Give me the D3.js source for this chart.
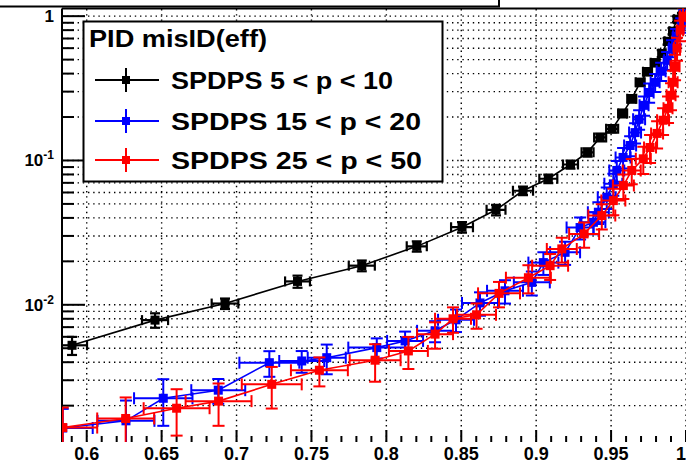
<!DOCTYPE html>
<html>
<head>
<meta charset="utf-8">
<script src="https://cdn.jsdelivr.net/npm/d3@7"></script>
<style>
  html, body { margin: 0; padding: 0; background: #fff; }
  svg { display: block; font-family: "Liberation Sans", Arial, Helvetica, sans-serif; }
</style>
</head>
<body>
<svg id="chart" width="686" height="464"></svg>
<script>
// Misidentification rate versus efficiency for three momentum bins
const xDomain = [0.5835, 1.0];
const yDomain = [0.00112, 1.13];

const xTickValues = [0.6, 0.65, 0.7, 0.75, 0.8, 0.85, 0.9, 0.95, 1.0];
const xTickLabels = ["0.6", "0.65", "0.7", "0.75", "0.8", "0.85", "0.9", "0.95", "1"];
const yDecades = [1, 0.1, 0.01];
const yDecadeBase = ["1", "10", "10"];
const yDecadeExp = ["", "-1", "-2"];

const legendTitle = "PID misID(eff)";
const legendLabels = ["SPDPS 5 < p < 10", "SPDPS 15 < p < 20", "SPDPS 25 < p < 50"];

// SPDPS 5 < p < 10
const blackX  = [0.5902, 0.6456, 0.6923, 0.7407, 0.7836, 0.8203, 0.8505, 0.8732, 0.8912, 0.9081, 0.9229, 0.9343,
                 0.9427, 0.9507, 0.9577, 0.9638, 0.9694, 0.9743, 0.9794, 0.9838, 0.9877, 0.9910, 0.9940, 0.9973];
const blackY  = [0.00524, 0.00783, 0.0102, 0.01452, 0.01867, 0.0254, 0.0345, 0.0455, 0.0617, 0.0747, 0.0938, 0.1138,
                 0.1445, 0.1656, 0.212, 0.268, 0.348, 0.412, 0.476, 0.551, 0.670, 0.787, 0.953, 1.0];
const blackEX = [0.010, 0.0087, 0.0089, 0.0083, 0.0087, 0.0067, 0.0073, 0.0063, 0.0067, 0.006, 0.005, 0.004,
                 0.004, 0.004, 0.003, 0.003, 0.003, 0.003, 0.003, 0.002, 0.002, 0.002, 0.002, 0.002];
const blackEY = [0.00075, 0.0009, 0.00085, 0.0014, 0.0016, 0.0021, 0.0029, 0.0038, 0.0041, 0.005, 0.006, 0.0075,
                 0.009, 0.010, 0.013, 0.016, 0.020, 0.024, 0.027, 0.030, 0.035, 0.040, 0.045, 0.050];

// SPDPS 15 < p < 20
const blueX  = [0.584, 0.6262, 0.6511, 0.6878, 0.7219, 0.7435, 0.7602, 0.7936, 0.8125, 0.8325, 0.8465, 0.8625,
                0.8792, 0.8971, 0.9048, 0.9193, 0.9293, 0.9382, 0.9415, 0.9471, 0.9515, 0.9538, 0.958, 0.9627,
                0.966, 0.9687, 0.972, 0.9754, 0.9794, 0.9834, 0.9874, 0.9907, 0.9934, 0.9968, 0.9988];
const blueY  = [0.0014, 0.00157, 0.00225, 0.00256, 0.00397, 0.00408, 0.0043, 0.00505, 0.00562, 0.0066, 0.00787, 0.0103,
                0.0125, 0.0143, 0.0196, 0.0231, 0.0343, 0.0373, 0.0438, 0.0556, 0.0689, 0.0853, 0.105, 0.127,
                0.156, 0.193, 0.241, 0.296, 0.348, 0.415, 0.494, 0.60, 0.726, 0.866, 1.0];
const blueEX = [0.020, 0.019, 0.0195, 0.018, 0.020, 0.015, 0.0127, 0.019, 0.012, 0.012, 0.012, 0.012,
                0.012, 0.012, 0.010, 0.010, 0.009, 0.008, 0.007, 0.006, 0.006, 0.005, 0.005, 0.004,
                0.004, 0.004, 0.003, 0.003, 0.003, 0.003, 0.002, 0.002, 0.002, 0.002, 0.002];
const blueEY = [0.0005, 0.0006, 0.0008, 0.0005, 0.0008, 0.0007, 0.0010, 0.0008, 0.0009, 0.0011, 0.0014, 0.0019,
                0.0023, 0.0027, 0.0035, 0.0042, 0.006, 0.0065, 0.0075, 0.0095, 0.012, 0.014, 0.017, 0.020,
                0.025, 0.030, 0.037, 0.045, 0.050, 0.060, 0.070, 0.080, 0.090, 0.10, 0.10];

// SPDPS 25 < p < 50
const redX  = [0.584, 0.626, 0.660, 0.688, 0.7235, 0.7553, 0.7925, 0.8147, 0.8325, 0.8445, 0.8602, 0.8752,
               0.8948, 0.9093, 0.9171, 0.932, 0.9438, 0.9515, 0.9582, 0.9638, 0.9715, 0.976, 0.9807, 0.9847,
               0.988, 0.990, 0.9914, 0.9927, 0.994, 0.9961, 0.998];
const redY  = [0.00141, 0.00163, 0.00192, 0.00215, 0.00281, 0.00352, 0.00413, 0.00479, 0.00626, 0.0080, 0.00852, 0.0120,
               0.0154, 0.01866, 0.0244, 0.031, 0.0415, 0.0527, 0.067, 0.0853, 0.1027, 0.123, 0.154, 0.19,
               0.23, 0.283, 0.348, 0.45, 0.60, 0.80, 1.0];
const redEX = [0.023, 0.019, 0.022, 0.022, 0.020, 0.019, 0.017, 0.013, 0.012, 0.012, 0.013, 0.014,
               0.015, 0.012, 0.010, 0.010, 0.009, 0.008, 0.007, 0.006, 0.005, 0.004, 0.004, 0.004,
               0.003, 0.003, 0.003, 0.003, 0.002, 0.002, 0.002];
const redEY = [0.00053, 0.00065, 0.00068, 0.0007, 0.0009, 0.0008, 0.0012, 0.0012, 0.0013, 0.0016, 0.0017, 0.0024,
               0.0034, 0.0038, 0.0048, 0.0062, 0.0083, 0.011, 0.013, 0.017, 0.022, 0.027, 0.033, 0.040,
               0.048, 0.060, 0.070, 0.090, 0.11, 0.13, 0.15];

const seriesColors = ["#000000", "#0000ff", "#ff0000"];

const svg = d3.select("#chart");
const frame = { left: 62, right: 686, top: 8.5, bottom: 442 };

const x = d3.scaleLinear().domain(xDomain).range([frame.left, frame.right]);
const y = d3.scaleLog().domain(yDomain).range([frame.bottom, frame.top]);

// every 1..9 x 10^k value inside the y range
const yAllTicks = [];
for (let k = -3; k <= 0; k++) {
  for (let m = 1; m <= 9; m++) {
    const v = m * Math.pow(10, k);
    if (v >= yDomain[0] && v <= yDomain[1]) yAllTicks.push({ v, major: m === 1 });
  }
}
const xMinorTicks = d3.range(59, 101).map(i => i / 100).filter(v => v >= xDomain[0] && v <= xDomain[1]);

svg.append("defs").append("clipPath").attr("id", "frameClip")
  .append("rect")
  .attr("x", frame.left).attr("y", frame.top)
  .attr("width", frame.right - frame.left).attr("height", frame.bottom - frame.top);

// title box along the top edge
svg.append("rect").attr("x", -4).attr("y", -30).attr("width", 503).attr("height", 36.5)
  .attr("fill", "#fff").attr("stroke", "#000").attr("stroke-width", 2);

// dotted grid
const grid = svg.append("g").attr("stroke", "#000").attr("stroke-width", 1.4)
  .attr("stroke-dasharray", "1.4,3.8").attr("fill", "none");
grid.selectAll("line.gy").data(yAllTicks).join("line").attr("class", "gy")
  .attr("x1", frame.left).attr("x2", frame.right)
  .attr("y1", d => y(d.v)).attr("y2", d => y(d.v));
grid.selectAll("line.gx").data(xTickValues).join("line").attr("class", "gx")
  .attr("x1", d => x(d)).attr("x2", d => x(d))
  .attr("y1", frame.bottom).attr("y2", frame.top);

// frame edges
svg.append("line").attr("x1", frame.left).attr("x2", frame.right + 2)
  .attr("y1", frame.top).attr("y2", frame.top).attr("stroke", "#000").attr("stroke-width", 2);
svg.append("line").attr("x1", frame.left).attr("x2", frame.left)
  .attr("y1", frame.top).attr("y2", frame.bottom).attr("stroke", "#000").attr("stroke-width", 2);

// y ticks (inward)
svg.append("g").selectAll("line").data(yAllTicks).join("line")
  .attr("x1", frame.left).attr("x2", d => frame.left + (d.major ? 23 : 12))
  .attr("y1", d => y(d.v)).attr("y2", d => y(d.v))
  .attr("stroke", "#000").attr("stroke-width", 2);

// x ticks (inward from the bottom)
svg.append("g").selectAll("line").data(xMinorTicks).join("line")
  .attr("x1", d => x(d)).attr("x2", d => x(d))
  .attr("y1", frame.bottom).attr("y2", d => {
    const major = Math.abs(Math.round(d * 20) - d * 20) < 1e-6;
    return frame.bottom - (major ? 12 : 6);
  })
  .attr("stroke", "#000").attr("stroke-width", 2);

// x tick labels; the last one sits flush with the right edge
const lastTick = xTickValues.length - 1;
svg.append("g").selectAll("text").data(xTickValues).join("text")
  .attr("x", (d, i) => i === lastTick ? frame.right : x(d)).attr("y", 460)
  .attr("text-anchor", (d, i) => i === lastTick ? "end" : "middle")
  .attr("font-size", 18).attr("font-weight", "bold")
  .text((d, i) => xTickLabels[i]);

// y tick labels with exponents
const yl = svg.append("g").selectAll("text").data(yDecades).join("text")
  .attr("x", 54).attr("y", d => y(d) + 6)
  .attr("text-anchor", "end").attr("font-weight", "bold");
yl.append("tspan").attr("font-size", 17).text((d, i) => yDecadeBase[i]);
yl.append("tspan").attr("font-size", 12).attr("dy", -7).text((d, i) => yDecadeExp[i]);

// data series
const plot = svg.append("g").attr("clip-path", "url(#frameClip)");

function drawSeries(xs, ys, exs, eys, color, cap, barWidth, markerSize) {
  const g = plot.append("g");
  const pts = xs.map((v, i) => ({ x: v, y: ys[i], ex: exs[i], ey: eys[i] }));
  const lo = v => Math.max(v, yDomain[0] * 0.3);

  g.append("path").datum(pts)
    .attr("d", d3.line().x(d => x(d.x)).y(d => y(d.y)))
    .attr("fill", "none").attr("stroke", color).attr("stroke-width", 1.6);

  const e = g.selectAll("g.pt").data(pts).join("g").attr("class", "pt")
    .attr("stroke", color).attr("stroke-width", barWidth);
  // horizontal error bars with end caps
  e.append("line").attr("x1", d => x(d.x - d.ex)).attr("x2", d => x(d.x + d.ex))
    .attr("y1", d => y(d.y)).attr("y2", d => y(d.y));
  e.append("line").attr("x1", d => x(d.x - d.ex)).attr("x2", d => x(d.x - d.ex))
    .attr("y1", d => y(d.y) - cap).attr("y2", d => y(d.y) + cap);
  e.append("line").attr("x1", d => x(d.x + d.ex)).attr("x2", d => x(d.x + d.ex))
    .attr("y1", d => y(d.y) - cap).attr("y2", d => y(d.y) + cap);
  // vertical error bars with end caps
  e.append("line").attr("x1", d => x(d.x)).attr("x2", d => x(d.x))
    .attr("y1", d => y(d.y + d.ey)).attr("y2", d => y(lo(d.y - d.ey)));
  e.append("line").attr("x1", d => x(d.x) - cap).attr("x2", d => x(d.x) + cap)
    .attr("y1", d => y(d.y + d.ey)).attr("y2", d => y(d.y + d.ey));
  e.append("line").attr("x1", d => x(d.x) - cap).attr("x2", d => x(d.x) + cap)
    .attr("y1", d => y(lo(d.y - d.ey))).attr("y2", d => y(lo(d.y - d.ey)));
  // square markers
  g.selectAll("rect").data(pts).join("rect")
    .attr("x", d => x(d.x) - markerSize / 2).attr("y", d => y(d.y) - markerSize / 2)
    .attr("width", markerSize).attr("height", markerSize).attr("fill", color);
}

drawSeries(blackX, blackY, blackEX, blackEY, seriesColors[0], 5, 2.2, 9);
drawSeries(blueX, blueY, blueEX, blueEY, seriesColors[1], 6, 2, 9);
drawSeries(redX, redY, redEX, redEY, seriesColors[2], 6, 2, 9);

// legend
const lg = svg.append("g");
lg.append("rect").attr("x", 83.5).attr("y", 21.5).attr("width", 359).attr("height", 160)
  .attr("fill", "#fff").attr("stroke", "#000").attr("stroke-width", 2);
lg.append("text").attr("x", 89).attr("y", 47).attr("font-size", 24).attr("font-weight", "bold")
  .attr("textLength", 178).attr("lengthAdjust", "spacingAndGlyphs").text(legendTitle);
const rowY = [80, 121, 160];
const rowW = [222, 250, 251];
legendLabels.forEach((label, i) => {
  const cy = rowY[i], c = seriesColors[i];
  lg.append("line").attr("x1", 95).attr("x2", 159).attr("y1", cy).attr("y2", cy)
    .attr("stroke", c).attr("stroke-width", 2);
  lg.append("line").attr("x1", 126).attr("x2", 126).attr("y1", cy - 12).attr("y2", cy + 12)
    .attr("stroke", c).attr("stroke-width", 2);
  lg.append("rect").attr("x", 122).attr("y", cy - 4).attr("width", 8).attr("height", 8).attr("fill", c);
  lg.append("text").attr("x", 171).attr("y", cy + 8.5).attr("font-size", 24).attr("font-weight", "bold")
    .attr("textLength", rowW[i]).attr("lengthAdjust", "spacingAndGlyphs").text(label);
});
</script>
</body>
</html>
